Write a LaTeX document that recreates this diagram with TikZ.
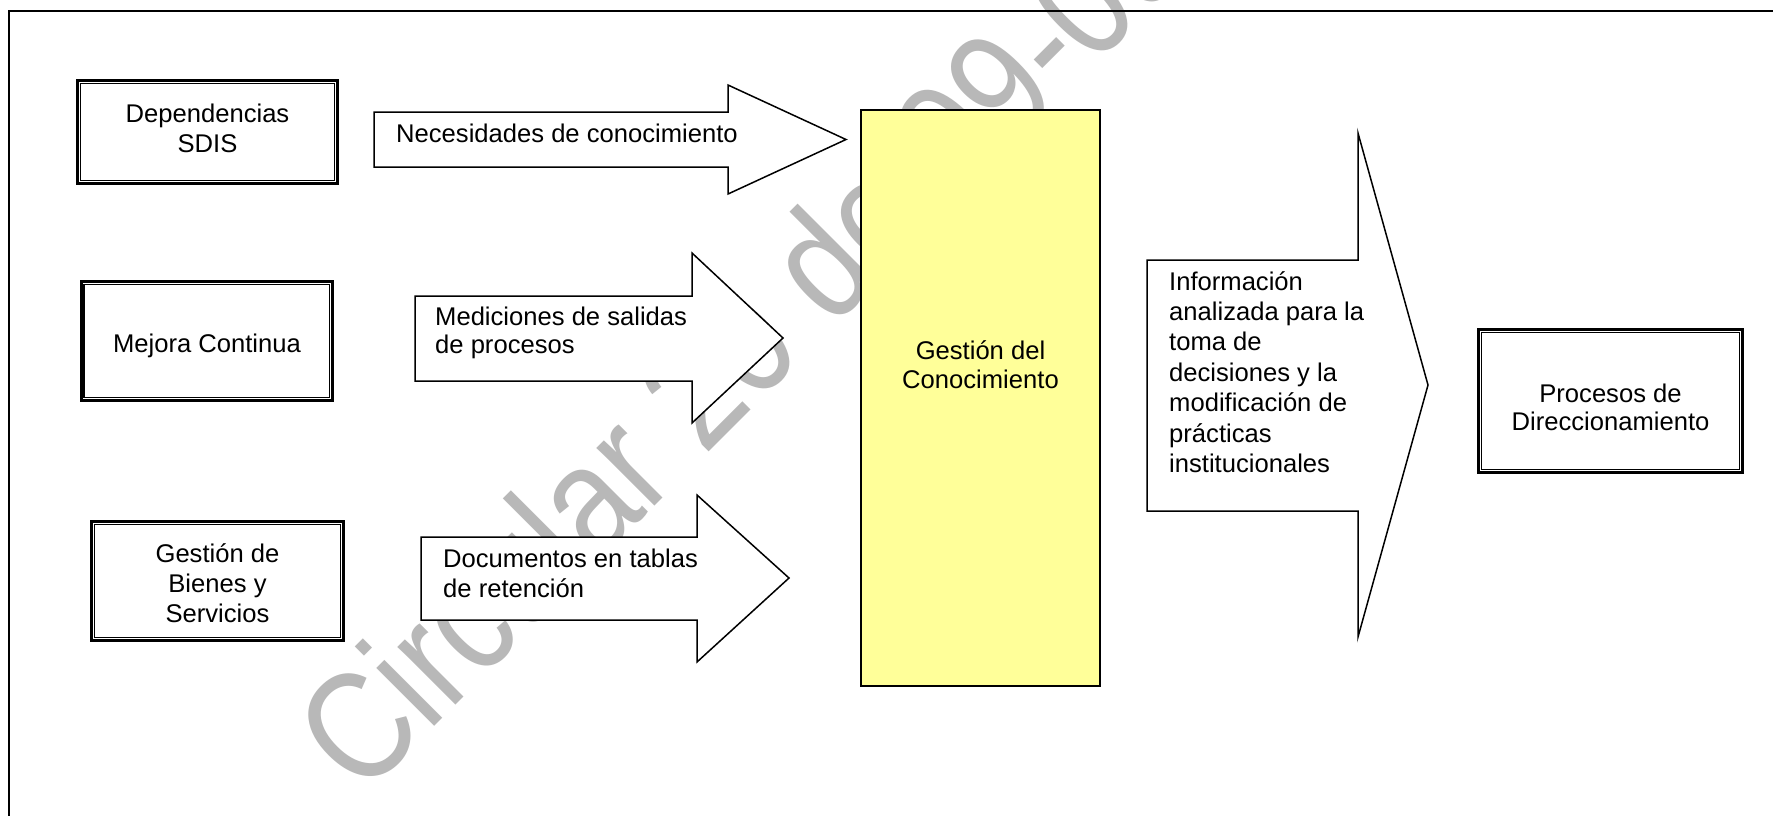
\documentclass[tikz,border=0pt]{standalone}
\usepackage{fontspec}
\setmainfont{Liberation Sans}
\definecolor{yel}{HTML}{FFFF99}
\begin{document}
\begin{tikzpicture}[x=1pt,y=-1pt,
  lab/.style={font=\fontsize{25.6}{30}\selectfont, inner sep=0pt, align=center},
  labl/.style={font=\fontsize{25.6}{30}\selectfont, inner sep=0pt, align=left},
  dbox/.style={draw, line width=3pt, inner sep=0pt},
  inbox/.style={line width=1.5pt},
  blk/.style={draw, line width=1.5pt, fill=white, line join=miter},
  wmark/.style={text=black!28, inner sep=0pt, font=\fontsize{155}{155}\selectfont}
]
\useasboundingbox (0,0) rectangle (1773,815);
\clip (0,0) rectangle (1773,815);
\fill[white] (0,0) rectangle (1773,815);

% watermark
\node[wmark, anchor=base west, rotate=45] (wm) at (362,799) {\scalebox{0.84}[1]{Circular 20 de 09-09}};

% frame
\coordinate (fbl) at (8.5,830);
\coordinate (ftl) at (8.5,11);
\coordinate (ftr) at (1800,11);
\draw[line width=2pt] (fbl) -- (ftl) -- (ftr);

% double boxes
\node[dbox, minimum width=260pt, minimum height=103pt] (dep) at (207.5,132) {};
\node[dbox, minimum width=251.5pt, minimum height=119pt] (mej) at (206.8,341) {};
\node[dbox, minimum width=252pt, minimum height=119pt] (bie) at (217.5,581) {};
\node[dbox, minimum width=264pt, minimum height=143pt] (pro) at (1610.5,401) {};
\foreach \n in {dep,mej,bie,pro}
  \draw[inbox] ([xshift=4.5pt,yshift=-4.5pt]\n.north west) rectangle ([xshift=-4.5pt,yshift=4.5pt]\n.south east);

\node[lab, anchor=base] (tdep) at (207.5,152) {Dependencias\\SDIS};
\node[lab, anchor=base] (tmej) at (207,352) {Mejora Continua};
\node[lab, anchor=base] (tbie) at (217.5,622) {Gestión de\\Bienes y\\Servicios};
\node[lab, anchor=base, font=\fontsize{25.6}{28.7}\selectfont] (tpro) at (1610.5,430.7) {Procesos de\\Direccionamiento};

% block arrows
\draw[blk] (374,112) -- (728,112) -- (728,85) -- (846,139.5) -- (728,194) -- (728,167) -- (374,167) -- cycle;
\draw[blk] (415,296) -- (692,296) -- (692,253) -- (783,338) -- (692,423) -- (692,381) -- (415,381) -- cycle;
\draw[blk] (421,537) -- (697,537) -- (697,495) -- (789,578) -- (697,662) -- (697,620) -- (421,620) -- cycle;
\draw[blk] (1147,260) -- (1358,260) -- (1358,133) -- (1428,385) -- (1358,637) -- (1358,511) -- (1147,511) -- cycle;

\node[labl, anchor=base west] (tnec) at (396,142) {Necesidades de conocimiento};
\node[labl, anchor=base west, font=\fontsize{25.6}{28.5}\selectfont] (tmed) at (435,353.5) {Mediciones de salidas\\de procesos};
\node[labl, anchor=base west] (tdoc) at (443,597) {Documentos en tablas\\de retención};
\node[labl, anchor=base west, font=\fontsize{25.6}{30.4}\selectfont] (tinf) at (1169,472.4) {Información\\analizada para la\\toma de\\decisiones y la\\modificación de\\prácticas\\institucionales};

% central box
\node[draw, fill=yel, line width=1.3pt, minimum width=239pt, minimum height=576pt, inner sep=0pt] (gc) at (980.5,398) {};
\node[lab, anchor=base, font=\fontsize{25.6}{29.3}\selectfont] (tgc) at (980.5,388.3) {Gestión del\\Conocimiento};
\end{tikzpicture}
\end{document}
